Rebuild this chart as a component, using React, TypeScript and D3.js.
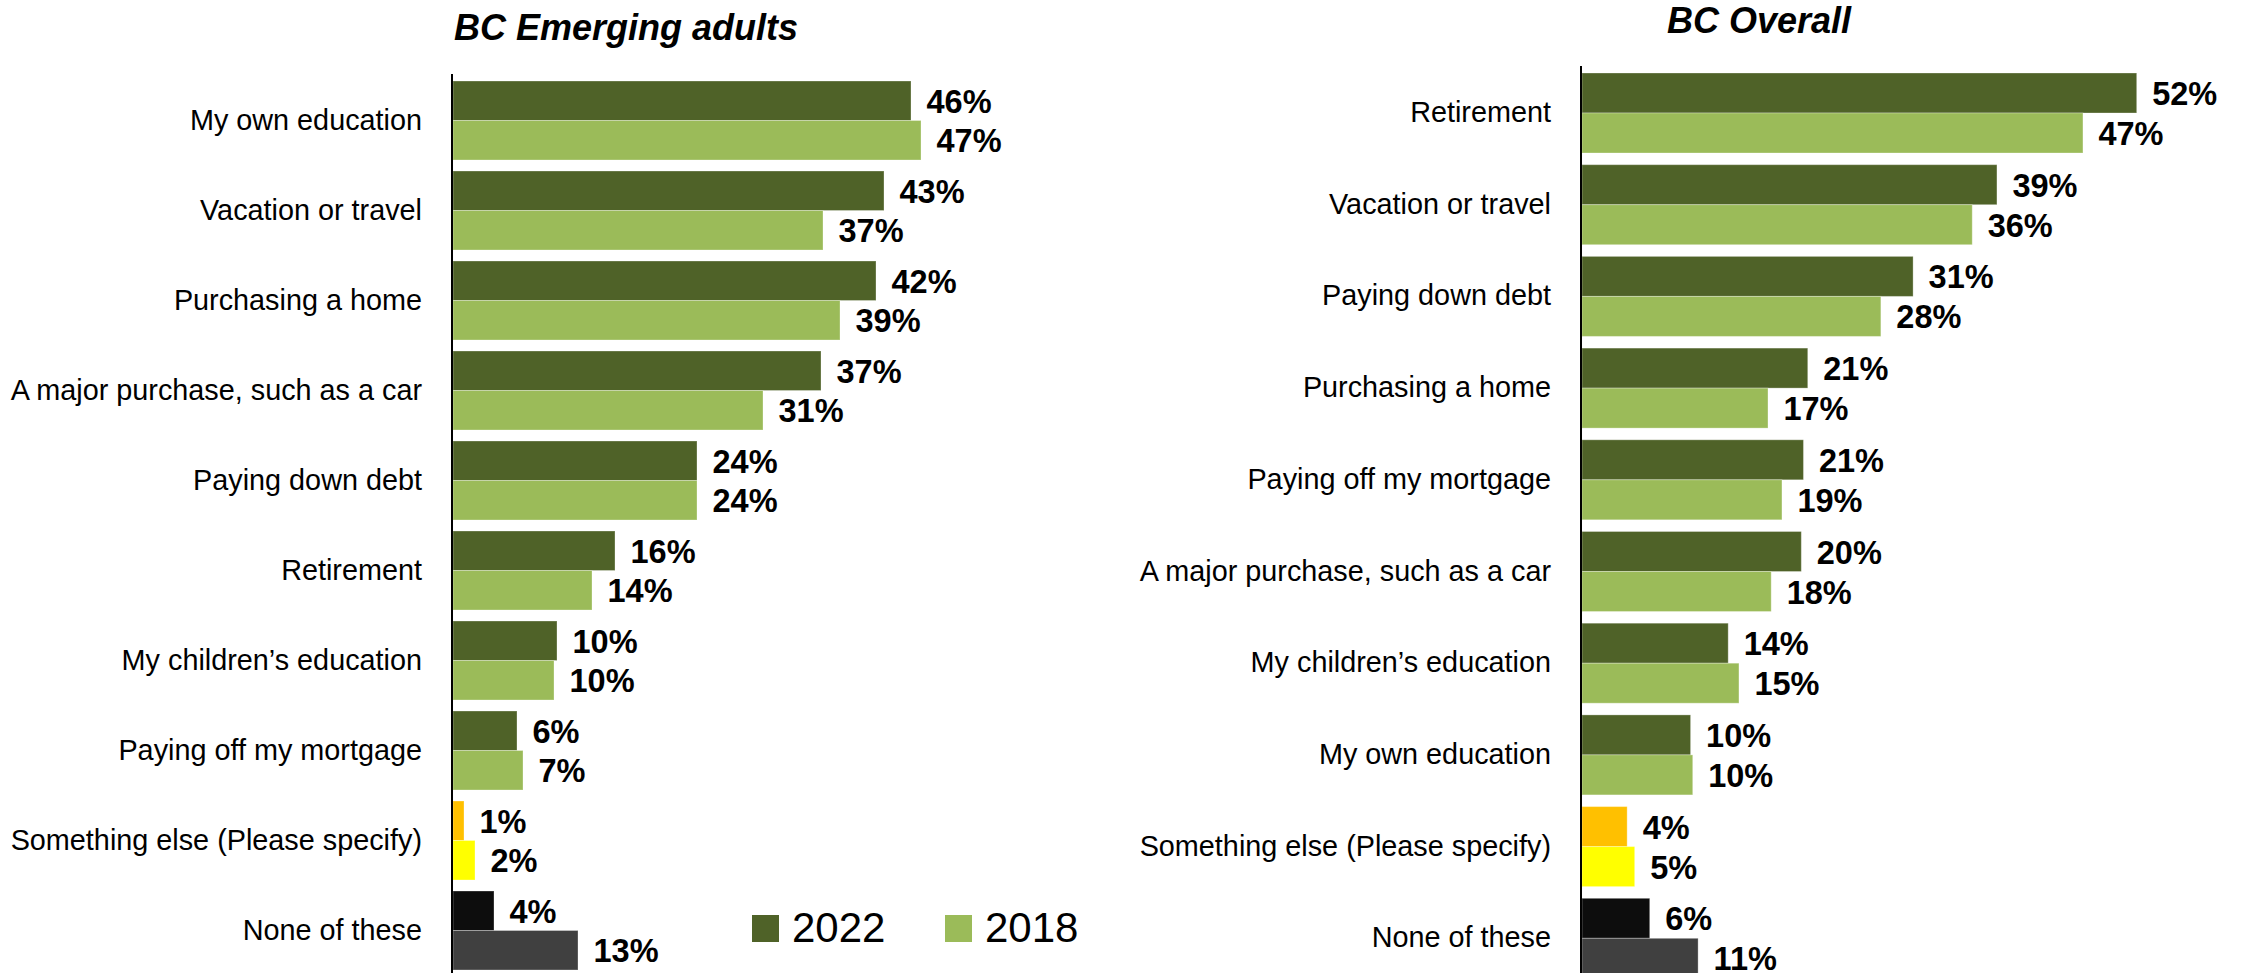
import React from "react";
import * as d3 from "d3";

// ---------- Data ----------
const seriesNames = ["2022", "2018"];

const emergingCategories = [
  "My own education",
  "Vacation or travel",
  "Purchasing a home",
  "A major purchase, such as a car",
  "Paying down debt",
  "Retirement",
  "My children’s education",
  "Paying off my mortgage",
  "Something else (Please specify)",
  "None of these",
];
const emerging2022 = [45.8, 43.1, 42.3, 36.8, 24.4, 16.2, 10.4, 6.4, 1.1, 4.1];
const emerging2018 = [46.8, 37.0, 38.7, 31.0, 24.4, 13.9, 10.1, 7.0, 2.2, 12.5];

const overallCategories = [
  "Retirement",
  "Vacation or travel",
  "Paying down debt",
  "Purchasing a home",
  "Paying off my mortgage",
  "A major purchase, such as a car",
  "My children’s education",
  "My own education",
  "Something else (Please specify)",
  "None of these",
];
const overall2022 = [51.6, 38.6, 30.8, 21.0, 20.6, 20.4, 13.6, 10.1, 4.2, 6.3];
const overall2018 = [46.6, 36.3, 27.8, 17.3, 18.6, 17.6, 14.6, 10.3, 4.9, 10.8];

// ---------- Styles ----------
const W = 2241;
const H = 973;
const FONT = "'Liberation Sans', Arial, sans-serif";
const seriesColors = ["#4F6228", "#9BBB59"];
const specialColors: Record<string, [string, string]> = {
  "Something else (Please specify)": ["#FFC000", "#FFFF00"],
  "None of these": ["#0D0D0D", "#404040"],
};

type PanelProps = {
  title: string;
  titleX: number;
  titleY: number;
  categories: string[];
  v2022: number[];
  v2018: number[];
  x0: number;
  pxPerPct: number;
  yStart: number;
  step: number;
  gap: number;
  axisTop: number;
};

function Panel(p: PanelProps) {
  const n = p.categories.length;
  const pi = p.gap / p.step;
  const x = d3.scaleLinear().domain([0, 100]).range([p.x0, p.x0 + 100 * p.pxPerPct]);
  const y = d3
    .scaleBand<string>()
    .domain(p.categories)
    .range([p.yStart, p.yStart + n * p.step])
    .paddingInner(pi)
    .paddingOuter(pi / 2);
  const bw = y.bandwidth();
  const half = bw / 2;
  const fmt = (v: number) => `${Math.round(v)}%`;

  return (
    <g>
      <text
        x={p.titleX}
        y={p.titleY}
        textAnchor="middle"
        fontFamily={FONT}
        fontWeight="bold"
        fontStyle="italic"
        fontSize={36}
        fill="#000"
      >
        {p.title}
      </text>
      {p.categories.map((c, i) => {
        const y0 = y(c)!;
        const cols = specialColors[c] || seriesColors;
        const vals = [p.v2022[i], p.v2018[i]];
        return (
          <g key={c}>
            <text
              x={p.x0 - 31}
              y={y0 + half + 9}
              textAnchor="end"
              fontFamily={FONT}
              fontSize={28.8}
              fill="#000"
            >
              {c}
            </text>
            {vals.map((v, j) => {
              const by = y0 + j * half;
              return (
                <g key={j}>
                  <rect
                    x={x(0)}
                    y={by}
                    width={x(v) - x(0)}
                    height={half}
                    fill={cols[j]}
                    stroke="rgba(255,255,255,0.3)"
                    strokeWidth={1}
                  />
                  <text
                    x={x(v) + 15.5}
                    y={by + half / 2 + 12}
                    fontFamily={FONT}
                    fontWeight="bold"
                    fontSize={32.5}
                    fill="#000"
                  >
                    {fmt(v)}
                  </text>
                </g>
              );
            })}
          </g>
        );
      })}
      <line x1={p.x0 - 1} x2={p.x0 - 1} y1={p.axisTop} y2={H} stroke="#000" strokeWidth={2} />
    </g>
  );
}

export default function App() {
  return (
    <svg
      width={W}
      height={H}
      viewBox={`0 0 ${W} ${H}`}
      style={{ position: "absolute", left: 0, top: 0, display: "block", background: "#fff" }}
    >
      <rect x={0} y={0} width={W} height={H} fill="#fff" />
      <Panel
        title="BC Emerging adults"
        titleX={626}
        titleY={40}
        categories={emergingCategories}
        v2022={emerging2022}
        v2018={emerging2018}
        x0={453}
        pxPerPct={10}
        yStart={75.5}
        step={90}
        gap={11}
        axisTop={74}
      />
      <Panel
        title="BC Overall"
        titleX={1759}
        titleY={33}
        categories={overallCategories}
        v2022={overall2022}
        v2018={overall2018}
        x0={1582}
        pxPerPct={10.75}
        yStart={67.15}
        step={91.7}
        gap={11.7}
        axisTop={66}
      />
      {/* Legend */}
      {seriesNames.map((s, i) => {
        const lx = [752, 945][i];
        return (
          <g key={s}>
            <rect x={lx} y={915} width={27} height={27} fill={seriesColors[i]} />
            <text x={lx + 40} y={942} fontFamily={FONT} fontSize={42} fill="#000">
              {s}
            </text>
          </g>
        );
      })}
    </svg>
  );
}
